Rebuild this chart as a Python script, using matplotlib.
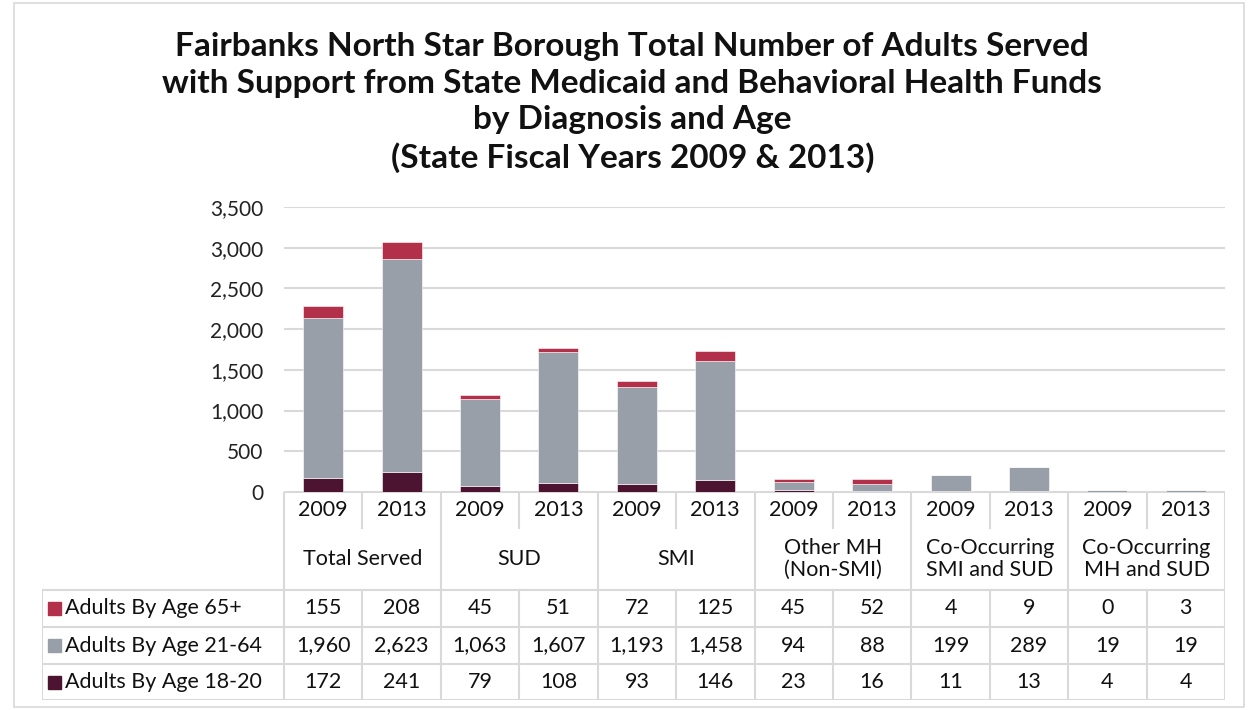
import numpy as np
import matplotlib.pyplot as plt
from matplotlib.patches import Rectangle

plt.rcParams['font.family'] = ['Lato', 'DejaVu Sans']

years = ["2009", "2013"] * 6
groups = ["Total Served", "SUD", "SMI", "Other MH\n(Non-SMI)",
          "Co-Occurring\nSMI and SUD", "Co-Occurring\nMH and SUD"]
age_18_20 = [172, 241, 79, 108, 93, 146, 23, 16, 11, 13, 4, 4]
age_21_64 = [1960, 2623, 1063, 1607, 1193, 1458, 94, 88, 199, 289, 19, 19]
age_65 = [155, 208, 45, 51, 72, 125, 45, 52, 4, 9, 0, 3]
series_names = ["Adults By Age 65+", "Adults By Age 21-64", "Adults By Age 18-20"]
colors = {"65": "#B3304A", "21": "#989FA8", "18": "#4D1431"}

W, H = 1252, 710
fig = plt.figure(figsize=(W / 100, H / 100), dpi=100)

# main axes placement in pixels
x0, x1 = 284, 1225
y_zero, y_top = 492, 207
ax = fig.add_axes([x0 / W, 1 - y_zero / H, (x1 - x0) / W, (y_zero - y_top) / H])
x = np.arange(len(years))
bw = 0.51
b1 = np.array(age_18_20)
b2 = b1 + np.array(age_21_64)
ax.bar(x, age_18_20, bw, color=colors["18"], zorder=3, edgecolor="white", linewidth=0.4)
ax.bar(x, age_21_64, bw, bottom=b1, color=colors["21"], zorder=3, edgecolor="white", linewidth=0.4)
ax.bar(x, age_65, bw, bottom=b2, color=colors["65"], zorder=3, edgecolor="white", linewidth=0.4)
ax.set_xlim(-0.5, 11.5)
ax.set_ylim(0, 3500)
ax.set_yticks(np.arange(0, 3501, 500))
ax.set_yticklabels([f"{v:,}" for v in range(0, 3501, 500)], fontsize=15, color="#222222")
ax.yaxis.grid(True, color="#D9D9D9", linewidth=1.5, zorder=0)
ax.set_xticks([])
for s in ax.spines.values():
    s.set_visible(False)
ax.tick_params(axis="y", length=0, pad=15)

# table axes
col_w = (x1 - x0) / 12
tx0 = 42
lead = (x0 - tx0) / col_w
tab = fig.add_axes([tx0 / W, 1 - 700 / H, (x1 - tx0) / W, (700 - y_zero) / H])
tab.set_xlim(-0.5 - lead, 11.5)
tab.set_ylim(700, y_zero)
tab.axis("off")
lc = "#D9D9D9"
lw = 1.5
left = -0.5 - lead
rows_y = [590, 627, 664, 700]
# horizontal lines
tab.plot([-0.5, 11.5], [y_zero, y_zero], color=lc, lw=lw)
for yy in rows_y:
    tab.plot([left, 11.5], [yy, yy], color=lc, lw=lw)
# vertical lines
tab.plot([left, left], [590, 700], color=lc, lw=lw)
for k in range(13):
    xv = k - 0.5
    if k % 2 == 0:
        tab.plot([xv, xv], [y_zero, 700], color=lc, lw=lw)
    else:
        tab.plot([xv, xv], [y_zero, 528], color=lc, lw=lw)
        tab.plot([xv, xv], [590, 700], color=lc, lw=lw)

fs = 15.5
for i, yr in enumerate(years):
    tab.text(i, 510, yr, ha="center", va="center", fontsize=fs, color="#111111")
for g, name in enumerate(groups):
    tab.text(2 * g + 0.5, 559, name, ha="center", va="center", fontsize=fs,
             color="#111111", linespacing=1.15)

row_data = [age_65, age_21_64, age_18_20]
row_cols = [colors["65"], colors["21"], colors["18"]]
for r, (vals, name, c) in enumerate(zip(row_data, series_names, row_cols)):
    yc = (rows_y[r] + rows_y[r + 1]) / 2
    tab.add_patch(Rectangle((left + 0.08, yc - 6.5), 0.165, 13, color=c, clip_on=False))
    tab.text(left + 0.29, yc, name, ha="left", va="center", fontsize=fs, color="#111111")
    for i, v in enumerate(vals):
        tab.text(i, yc, f"{v:,}", ha="center", va="center", fontsize=fs, color="#111111")

fig.text(0.505, 0.955,
         "Fairbanks North Star Borough Total Number of Adults Served\n"
         "with Support from State Medicaid and Behavioral Health Funds\n"
         "by Diagnosis and Age\n(State Fiscal Years 2009 & 2013)",
         ha="center", va="top", fontsize=24, fontweight="bold", color="#111111",
         linespacing=1.32)

fig.add_artist(Rectangle((14 / W, 3 / H), (1244 - 14) / W, (H - 6) / H,
                         transform=fig.transFigure, fill=False, edgecolor="#D9D9D9", lw=1.2))

fig.savefig("out.png", dpi=100)
